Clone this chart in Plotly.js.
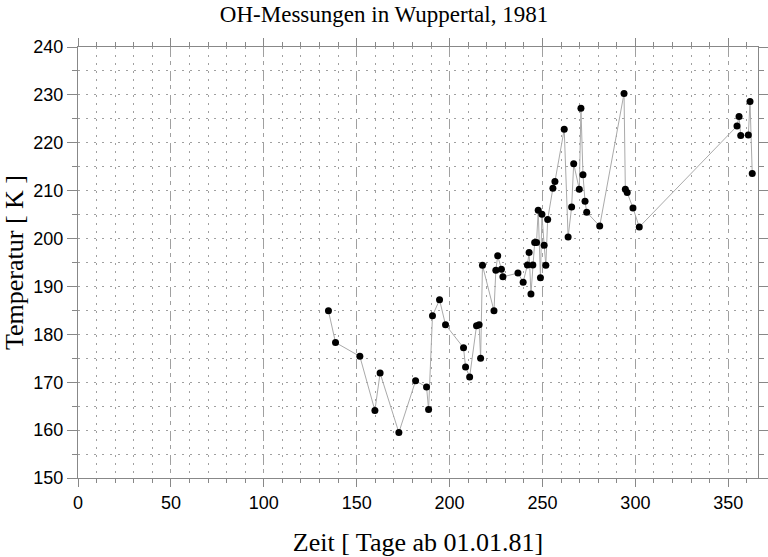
<!DOCTYPE html>
<html>
<head>
<meta charset="utf-8">
<script src="https://cdn.plot.ly/plotly-3.0.1.min.js"></script>
<style>html,body{margin:0;padding:0;background:#fff;}#chart{width:768px;height:557px;}</style>
</head>
<body>
<div id="chart"></div>
<script>
const days = [134.8,138.6,151.7,159.8,162.6,172.7,181.7,187.6,188.7,190.8,194.6,197.8,207.5,208.6,210.8,214.5,215.9,216.7,217.7,223.9,224.9,225.9,227.9,228.7,236.8,239.6,241.9,242.8,243.8,244.8,245.8,246.8,247.7,248.9,249.7,250.9,251.8,252.8,255.6,256.7,261.7,263.8,265.7,266.8,269.8,270.7,271.8,272.9,273.8,280.8,293.9,294.6,295.6,298.7,302.1,354.7,355.8,356.7,360.8,361.7,362.9];
const temps = [184.9,178.3,175.4,164.1,171.9,159.5,170.3,169.0,164.3,183.9,187.2,182.0,177.2,173.2,171.1,181.8,182.0,175.0,194.4,184.9,193.4,196.4,193.6,192.0,192.8,190.9,194.5,197.1,188.4,194.5,199.2,199.2,205.9,191.8,205.1,198.6,194.4,204.0,210.5,211.9,222.8,200.3,206.6,215.6,210.3,227.2,213.3,207.8,205.5,202.6,230.3,210.3,209.6,206.4,202.4,223.5,225.5,221.5,221.6,228.6,213.6];
const xTicks = [0,50,100,150,200,250,300,350];
const yTicks = [150,160,170,180,190,200,210,220,230,240];

const trace = {
  x: days, y: temps, type: 'scatter', mode: 'lines+markers',
  line: {color: '#aaaaaa', width: 1},
  marker: {color: '#000000', size: 7},
  hoverinfo: 'x+y'
};

const gridCol = '#a0a0a0';
const serif = 'Liberation Serif, Times New Roman, serif';
const sans = 'Liberation Sans, Arial, sans-serif';
const layout = {
  width: 768, height: 557,
  margin: {l: 78, r: 10, t: 47, b: 79},
  paper_bgcolor: '#ffffff', plot_bgcolor: '#ffffff',
  showlegend: false,
  title: {text: 'OH-Messungen in Wuppertal, 1981', x: 0.5, xref: 'container', y: 0.99, yanchor: 'top',
          font: {family: serif, size: 23, color: '#000'}},
  xaxis: {
    range: [0, 366], tickvals: xTicks, ticktext: xTicks.map(String),
    ticks: 'outside', ticklen: 8, tickcolor: '#888', tickwidth: 1,
    showline: true, linecolor: '#888', linewidth: 1, mirror: 'ticks',
    zeroline: false,
    showgrid: true, gridcolor: gridCol, gridwidth: 1, griddash: '8px,6px,2px,8px',
    minor: {dtick: 10, tick0: 0, ticks: 'outside', ticklen: 4, tickcolor: '#888', showgrid: true, gridcolor: gridCol, griddash: '2px,6px'},
    tickfont: {family: sans, size: 18, color: '#000'},
    title: {text: 'Zeit [ Tage ab 01.01.81]', standoff: 24,
            font: {family: serif, size: 26, color: '#000'}}
  },
  yaxis: {
    range: [150, 240], tickvals: yTicks, ticktext: yTicks.map(String),
    ticks: 'outside', ticklen: 10, tickcolor: '#888', tickwidth: 1,
    showline: true, linecolor: '#888', linewidth: 1, mirror: 'ticks',
    zeroline: false,
    showgrid: true, gridcolor: gridCol, gridwidth: 1, griddash: '2px,6px',
    minor: {dtick: 5, tick0: 150, ticks: 'outside', ticklen: 5, tickcolor: '#888', showgrid: true, gridcolor: gridCol, griddash: '2px,6px'},
    tickfont: {family: sans, size: 18, color: '#000'},
    title: {text: 'Temperatur [ K ]', standoff: 10,
            font: {family: serif, size: 26, color: '#000'}}
  }
};

Plotly.newPlot('chart', [trace], layout, {displayModeBar: false, staticPlot: true});
</script>
</body>
</html>
